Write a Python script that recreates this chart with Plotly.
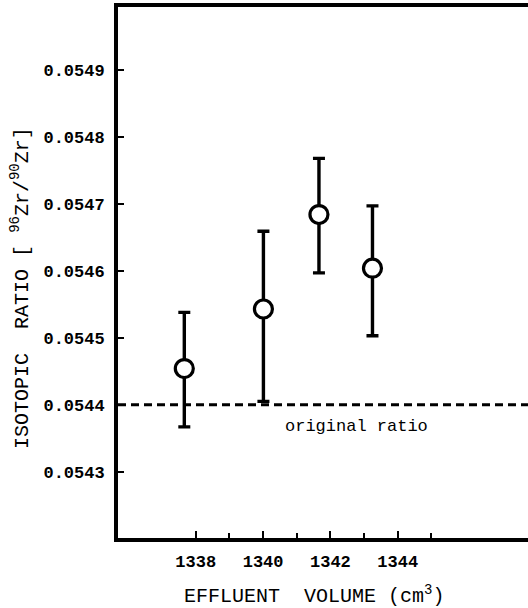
import plotly.graph_objects as go

# Data
volume = [1337.66, 1340.01, 1341.66, 1343.25]          # effluent volume (cm^3)
ratio = [0.054454, 0.054543, 0.054684, 0.054604]        # 96Zr/90Zr
err_plus = [0.000084, 0.000116, 0.000084, 0.000093]
err_minus = [0.000087, 0.000138, 0.000087, 0.000101]
original_ratio = 0.0544

x_ticks = [1338, 1340, 1342, 1344]
y_ticks = [0.0543, 0.0544, 0.0545, 0.0546, 0.0547, 0.0548, 0.0549]

FONT = "Liberation Mono"

fig = go.Figure()
fig.add_trace(go.Scatter(
    x=volume, y=ratio, mode="markers",
    marker=dict(symbol="circle", size=18, color="white",
                line=dict(color="black", width=3.2)),
    error_y=dict(type="data", symmetric=False, array=err_plus,
                 arrayminus=err_minus, color="black", thickness=3.4,
                 width=6),
    showlegend=False,
))

fig.add_shape(type="line", xref="paper", x0=0, x1=1, yref="y",
              y0=original_ratio, y1=original_ratio,
              line=dict(color="black", width=3, dash="8px,5px"))

fig.add_annotation(x=1342.78, y=0.054367, text="original ratio",
                   showarrow=False, xref="x", yref="y",
                   font=dict(family=FONT, size=17, color="black"))

# x-axis title
fig.add_annotation(x=1341.5, y=-0.108, xref="x", yref="paper",
                   text="EFFLUENT  VOLUME (cm<sup>3</sup>)", showarrow=False,
                   yanchor="middle",
                   font=dict(family=FONT, size=20, color="black"))

# y-axis title
fig.add_annotation(x=-0.239, y=0.471, xref="paper", yref="paper",
                   text="ISOTOPIC  RATIO [ <sup>96</sup>Zr/<sup>90</sup>Zr]",
                   showarrow=False, textangle=-90,
                   xanchor="center", yanchor="middle",
                   font=dict(family=FONT, size=20, color="black"))

fig.update_xaxes(
    range=[1335.69, 1347.87], showgrid=False, zeroline=False,
    showline=True, linewidth=3.8, linecolor="black", mirror=True,
    tickvals=x_ticks, ticktext=[str(t) for t in x_ticks],
    ticks="inside", ticklen=7, tickwidth=2, tickcolor="black",
    minor=dict(tickvals=[1339, 1341, 1343, 1345], ticks="inside",
               ticklen=5, tickwidth=2, tickcolor="black", showgrid=False),
    tickfont=dict(family=FONT, size=17, color="black", weight="bold"),
    ticklabelstandoff=5,
)
fig.update_yaxes(
    range=[0.054201, 0.054994], showgrid=False, zeroline=False,
    showline=True, linewidth=3.8, linecolor="black", mirror=False,
    tickvals=y_ticks, ticktext=[f"{v:.4f}" for v in y_ticks],
    ticks="inside", ticklen=6, tickwidth=2, tickcolor="black",
    tickfont=dict(family=FONT, size=17, color="black", weight="bold"),
    ticklabelstandoff=6,
)

fig.update_layout(
    width=528, height=608,
    margin=dict(l=118, r=0, t=7, b=70),
    plot_bgcolor="white", paper_bgcolor="white",
)

fig.write_html("out.html")
